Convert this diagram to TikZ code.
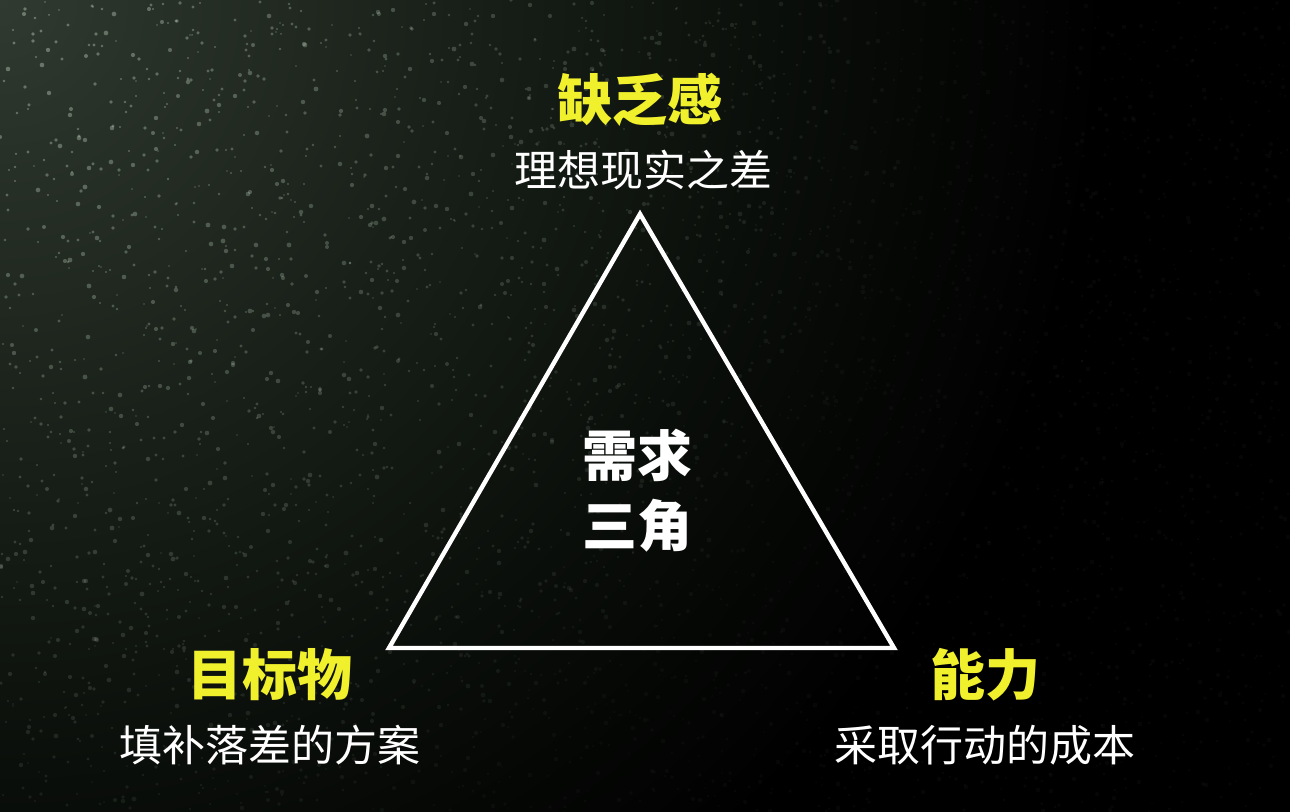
\documentclass[tikz,border=0pt]{standalone}
\usepackage{fontspec}
\setmainfont{Noto Sans CJK SC}
\definecolor{hl}{RGB}{240,240,45}
\definecolor{bgA}{RGB}{48,58,48}
\definecolor{bgB}{RGB}{32,40,32}
\definecolor{bgC}{RGB}{18,24,18}
\definecolor{bgD}{RGB}{7,10,7}
\definecolor{speck}{RGB}{200,220,200}
\pgfdeclareradialshading{bgshade}{\pgfpoint{0bp}{0bp}}{color(0bp)=(bgA); color(3.2bp)=(bgB); color(6.2bp)=(bgC); color(9bp)=(bgD); color(11.5bp)=(black); color(50bp)=(black)}
\tikzset{
  title/.style={text=hl, font=\fontsize{27.5}{30}\selectfont\bfseries, inner sep=0pt},
  sub/.style={text=white, font=\fontsize{21.5}{24}\selectfont, inner sep=0pt},
  core/.style={text=white, font=\fontsize{27.5}{30}\selectfont\bfseries, inner sep=0pt},
  tri/.style={draw=white, line width=2.2pt, line join=miter}
}
\begin{document}
\begin{tikzpicture}[x=0.5pt,y=-0.5pt]
\useasboundingbox (0,0) rectangle (1290,812);
\begin{scope}
  \clip (0,0) rectangle (1290,812);
  \fill[black] (0,0) rectangle (1290,812);
  \shade[shading=bgshade] (0,0) circle[radius=1200pt];
  \pgfmathsetseed{7}
  \foreach \i in {1,...,3800}{
    \pgfmathsetmacro\px{random(0,1290)}
    \pgfmathsetmacro\py{random(0,812)}
    \pgfmathsetmacro\dd{100*sqrt((\px/100)^2+(\py/100)^2)}
    \pgfmathsetmacro\op{max(0.03,0.42*(1-\dd/1000))}
    \pgfmathsetmacro\rr{0.4+rnd*0.8}
    \fill[speck, opacity=\op] (\px,\py) circle[radius=\rr pt];
  }
\end{scope}
% triangle
\coordinate (top) at (640,214);
\coordinate (bl) at (389,648);
\coordinate (br) at (894,648);
\draw[tri] (top) -- (bl) -- (br) -- cycle;
% labels
\node[title] (lack) at (640,100) {缺乏感};
\node[sub] (lacks) at (643,170) {理想现实之差};
\node[core] (c1) at (637,455) {需求};
\node[core] (c2) at (637,526) {三角};
\node[title] (goal) at (270,675) {目标物};
\node[sub] (goals) at (270,745) {填补落差的方案};
\node[title] (abil) at (985,675) {能力};
\node[sub] (abils) at (985,745) {采取行动的成本};
\end{tikzpicture}
\end{document}
